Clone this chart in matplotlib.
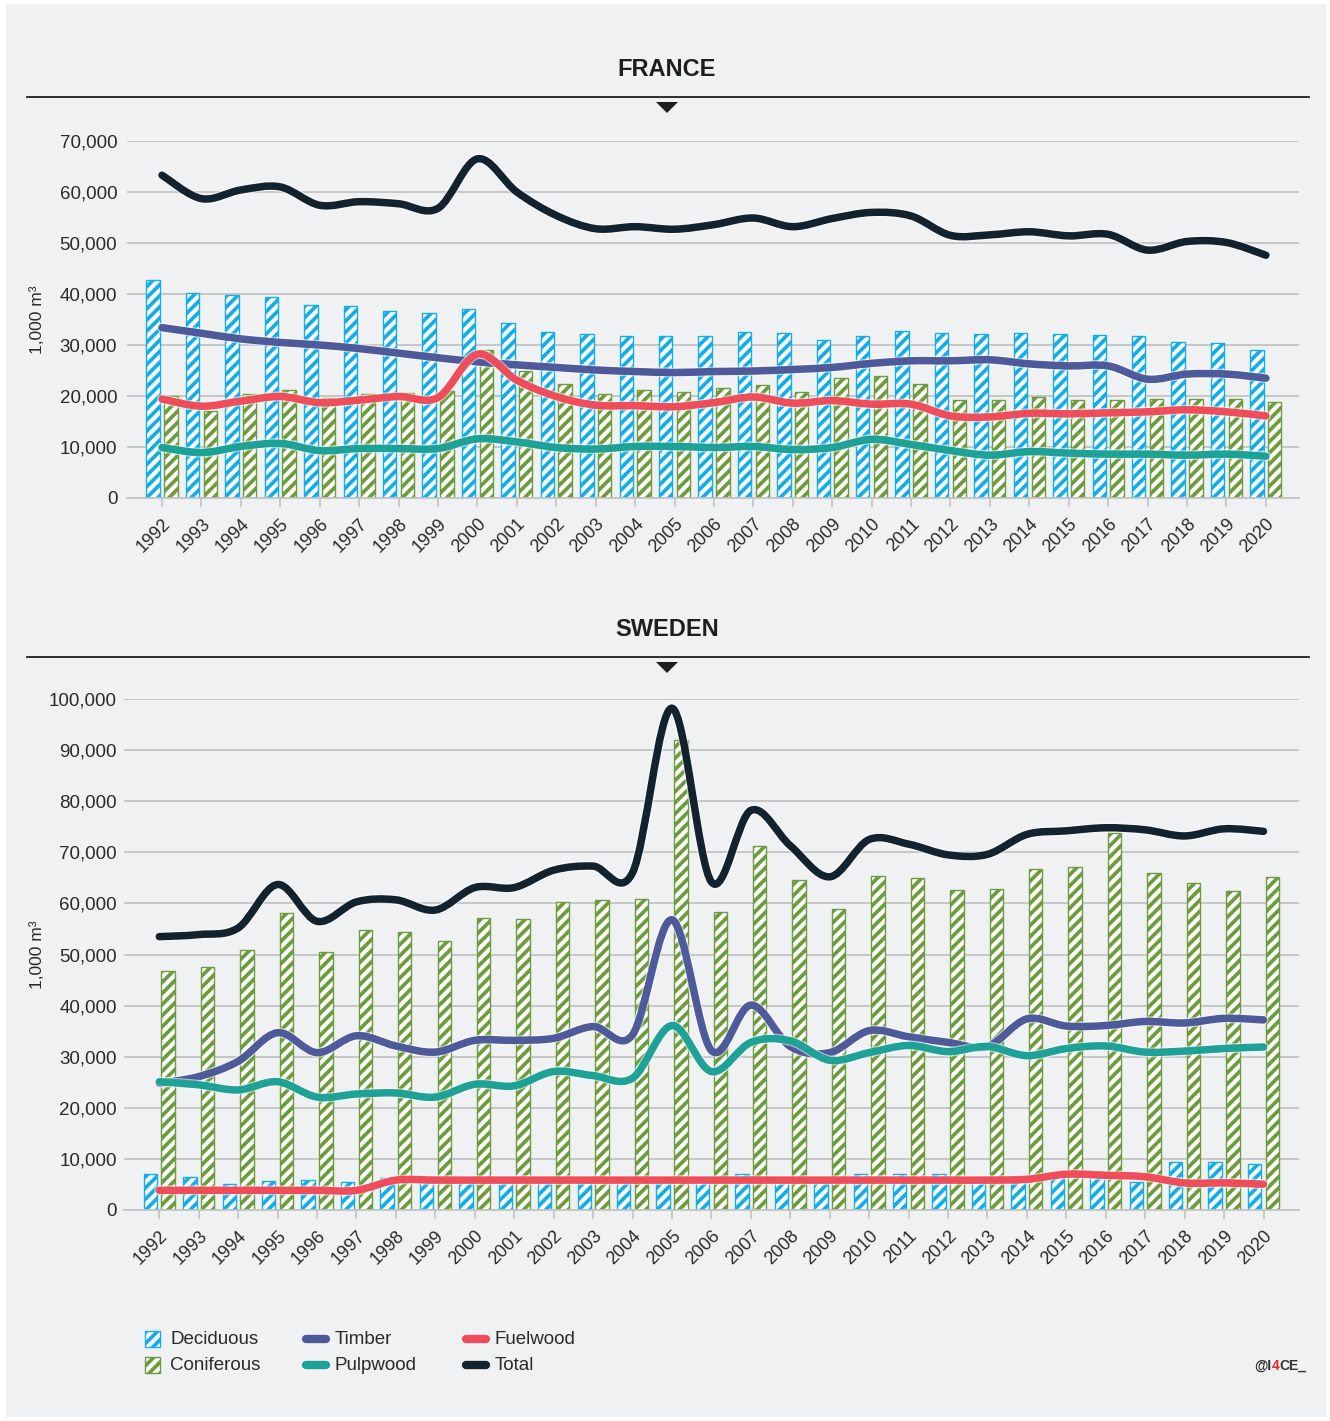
import numpy as np
import matplotlib

matplotlib.use("Agg")
import matplotlib.pyplot as plt
import matplotlib.patheffects as pe
from matplotlib.path import Path
from matplotlib.patches import PathPatch, Rectangle, Polygon
from matplotlib.lines import Line2D
from matplotlib.ticker import FuncFormatter
from matplotlib.offsetbox import TextArea, HPacker, AnchoredOffsetbox

plt.rcParams["font.family"] = ["Liberation Sans", "DejaVu Sans"]
plt.rcParams["hatch.linewidth"] = 2.7

years = [str(y) for y in range(1992, 2021)]

# France, 1,000 m3
fr_deciduous = [42700, 40200, 39800, 39400, 37800, 37600, 36600, 36200, 37000, 34300,
                32600, 32100, 31800, 31800, 31800, 32500, 32300, 31000, 31800, 32700,
                32300, 32100, 32300, 32100, 32000, 31800, 30500, 30300, 29000]
fr_coniferous = [20000, 17100, 20400, 21100, 19700, 20300, 20600, 21000, 29100, 24900,
                 22300, 20400, 21100, 20700, 21500, 22200, 20700, 23500, 23900, 22300,
                 19200, 19200, 19800, 19200, 19200, 19400, 19400, 19400, 18800]
fr_timber = [33400, 32300, 31200, 30500, 30000, 29300, 28400, 27500, 26700, 26100,
             25600, 25100, 24800, 24600, 24800, 24900, 25200, 25600, 26400, 26900,
             26900, 27100, 26300, 25900, 25900, 23300, 24300, 24300, 23500]
fr_pulpwood = [9900, 8900, 10100, 10700, 9300, 9700, 9700, 9700, 11600, 11000,
               9900, 9600, 10100, 10100, 9900, 10100, 9500, 9900, 11500, 10500,
               9300, 8400, 9100, 8800, 8600, 8600, 8400, 8600, 8200]
fr_fuelwood = [19400, 18000, 19000, 19900, 18700, 19200, 19900, 19700, 28200, 23100,
               19900, 18200, 18100, 17900, 18700, 19800, 18600, 19100, 18400, 18400,
               16100, 15900, 16600, 16500, 16700, 16900, 17300, 16900, 16100]
fr_total = [63300, 58700, 60400, 61000, 57400, 58100, 57700, 56800, 66500, 60000,
            55400, 52800, 53200, 52700, 53600, 54900, 53200, 54800, 56000, 55300,
            51500, 51600, 52200, 51400, 51700, 48600, 50300, 50100, 47600]

# Sweden, 1,000 m3
se_deciduous = [7000, 6500, 5100, 5600, 5900, 5400, 6300, 6000, 5900, 6000,
                6000, 6000, 5800, 6000, 5800, 7000, 6300, 6000, 7000, 7000,
                7000, 6300, 6700, 6900, 6700, 5500, 9300, 9300, 9000]
se_coniferous = [46700, 47600, 50800, 58100, 50500, 54800, 54400, 52600, 57200, 56900,
                 60200, 60700, 60900, 92000, 58400, 71300, 64500, 59000, 65400, 64900,
                 62600, 62900, 66700, 67200, 73800, 65900, 64000, 62400, 65100]
se_timber = [24800, 26100, 29100, 34700, 30800, 34100, 32100, 30900, 33200, 33200,
             33600, 35900, 34300, 56800, 31200, 40100, 32000, 30800, 35100, 33900,
             32800, 32000, 37400, 36000, 36100, 36900, 36600, 37500, 37200]
se_pulpwood = [25100, 24500, 23500, 25100, 22100, 22700, 22900, 22100, 24600, 24300,
               27100, 26300, 25800, 36100, 27100, 32800, 33100, 29300, 30800, 32200,
               31000, 32000, 30200, 31600, 32100, 30900, 31100, 31600, 31900]
se_fuelwood = [3850, 3850, 3850, 3850, 3850, 3850, 5850, 5850, 5850, 5850,
               5850, 5850, 5850, 5850, 5850, 5850, 5850, 5850, 5850, 5850,
               5850, 5850, 6000, 7000, 6800, 6500, 5300, 5300, 5050]
se_total = [53500, 53900, 55200, 63700, 56500, 60300, 60700, 58700, 63100, 63100,
            66500, 67300, 66000, 98200, 64200, 78200, 71300, 65200, 72500, 71600,
            69500, 69600, 73500, 74200, 74800, 74400, 73200, 74600, 74100]

BLUE = "#16ade6"
GREEN = "#6e9b40"
TIMBER = "#4e5a9a"
PULP = "#1ea297"
FUEL = "#ef4d5a"
TOTAL = "#13222f"
BG = "#f0f1f3"
GRID = "#c3c3c3"
TXT = "#2a2a2a"

W, H = 1330, 1421
fig = plt.figure(figsize=(W / 100, H / 100), dpi=100)
fig.patch.set_facecolor("white")
fig.add_artist(Rectangle((6 / W, 4 / H), 1320 / W, 1413 / H, transform=fig.transFigure,
                         facecolor=BG, edgecolor="none", zorder=-5))


def px_axes(left, top, right, bottom):
    return fig.add_axes([left / W, 1 - bottom / H, (right - left) / W, (bottom - top) / H])


def smooth_path(xs, ys):
    # bezier smoothing like the spreadsheet "smoothed line" option
    n = len(xs)
    verts = [(xs[0], ys[0])]
    codes = [Path.MOVETO]
    for i in range(n - 1):
        x0, y0 = xs[max(i - 1, 0)], ys[max(i - 1, 0)]
        x1, y1 = xs[i], ys[i]
        x2, y2 = xs[i + 1], ys[i + 1]
        x3, y3 = xs[min(i + 2, n - 1)], ys[min(i + 2, n - 1)]
        verts += [(x1 + (x2 - x0) / 6, y1 + (y2 - y0) / 6),
                  (x2 - (x3 - x1) / 6, y2 - (y3 - y1) / 6),
                  (x2, y2)]
        codes += [Path.CURVE4] * 3
    return Path(verts, codes)


def draw_panel(ax, dec, con, lines, ymax, xlim, ypad):
    x = np.arange(len(years))
    ax.set_facecolor("none")
    ax.bar(x - 0.225, dec, 0.34, color="white", edgecolor=BLUE, hatch="///", lw=1.0, zorder=2)
    ax.bar(x + 0.225, con, 0.34, color="white", edgecolor=GREEN, hatch="///", lw=1.0, zorder=2)
    for vals, col in lines:
        patch = PathPatch(smooth_path(x, vals), fill=False, edgecolor=col, lw=5.4,
                          capstyle="round", joinstyle="round", zorder=3)
        patch.set_path_effects([pe.Stroke(linewidth=7.2, foreground="white", alpha=0.55),
                                pe.Normal()])
        ax.add_patch(patch)
    ax.set_xlim(*xlim)
    ax.set_ylim(0, ymax)
    ax.set_yticks(np.arange(0, ymax + 1, 10000))
    ax.yaxis.set_major_formatter(FuncFormatter(lambda v, p: f"{int(v):,}"))
    ax.set_xticks(x)
    ax.set_xticklabels(years, rotation=45, ha="right", va="top", rotation_mode="anchor")
    ax.tick_params(axis="x", length=6.5, width=1.2, color=GRID, pad=6, labelsize=13, labelcolor=TXT)
    ax.tick_params(axis="y", length=0, pad=ypad, labelsize=13.5, labelcolor=TXT)
    ax.yaxis.grid(True, color=GRID, lw=1.3)
    ax.set_axisbelow(True)
    for s in ["top", "right", "left"]:
        ax.spines[s].set_visible(False)
    ax.spines["bottom"].set_color(GRID)
    ax.spines["bottom"].set_linewidth(1.3)


ax_fr = px_axes(127, 141, 1299, 498)
draw_panel(ax_fr, fr_deciduous, fr_coniferous,
           [(fr_timber, TIMBER), (fr_fuelwood, FUEL), (fr_pulpwood, PULP), (fr_total, TOTAL)],
           70000, (-0.888, 28.84), 7)

ax_se = px_axes(124, 699, 1299, 1210)
draw_panel(ax_se, se_deciduous, se_coniferous,
           [(se_timber, TIMBER), (se_fuelwood, FUEL), (se_pulpwood, PULP), (se_total, TOTAL)],
           100000, (-0.895, 28.9), 5)

# overlay in pixel coordinates for titles, legend and credit
ov = fig.add_axes([0, 0, 1, 1], zorder=10)
ov.set_xlim(0, W)
ov.set_ylim(H, 0)
ov.axis("off")

for title, ty, ly in [("FRANCE", 70, 97), ("SWEDEN", 630, 657)]:
    ov.text(667, ty, title, ha="center", va="center", fontsize=17, fontweight="bold", color="#1e1e1e")
    ov.plot([27, 1309], [ly, ly], color="#1e1e1e", lw=1.3)
    ov.add_patch(Polygon([(656, ly + 5), (678, ly + 5), (667, ly + 16)], closed=True,
                         facecolor="#1e1e1e", edgecolor="none"))

for cy in [320, 955]:
    ov.text(37, cy, "1,000 m³", rotation=90, ha="center", va="center", fontsize=12.5, color=TXT)

legend_items = [
    ("patch", BLUE, "Deciduous", 145, 1339),
    ("patch", GREEN, "Coniferous", 145, 1365),
    ("line", TIMBER, "Timber", 302, 1339),
    ("line", PULP, "Pulpwood", 302, 1365),
    ("line", FUEL, "Fuelwood", 462, 1339),
    ("line", TOTAL, "Total", 462, 1365),
]
for kind, col, label, lx, ly in legend_items:
    if kind == "patch":
        ov.add_patch(Rectangle((lx, ly - 8), 15, 16, facecolor="white", edgecolor=col,
                               hatch="///", lw=1.0))
        tx = lx + 25
    else:
        ov.add_line(Line2D([lx + 4, lx + 24], [ly, ly], color=col, lw=6, solid_capstyle="round"))
        tx = lx + 33
    ov.text(tx, ly, label, ha="left", va="center", fontsize=13.5, color=TXT)

credit = HPacker(children=[
    TextArea("@I", textprops=dict(fontsize=10, fontweight="bold", color="#333333")),
    TextArea("4", textprops=dict(fontsize=10, fontweight="bold", color="#e8262d")),
    TextArea("CE_", textprops=dict(fontsize=10, fontweight="bold", color="#333333")),
], align="baseline", pad=0, sep=0)
box = AnchoredOffsetbox(loc="center right", child=credit, frameon=False, pad=0, borderpad=0,
                        bbox_to_anchor=(1306, 1366), bbox_transform=ov.transData)
ov.add_artist(box)

fig.savefig("out.png", dpi=100, facecolor=fig.get_facecolor())
